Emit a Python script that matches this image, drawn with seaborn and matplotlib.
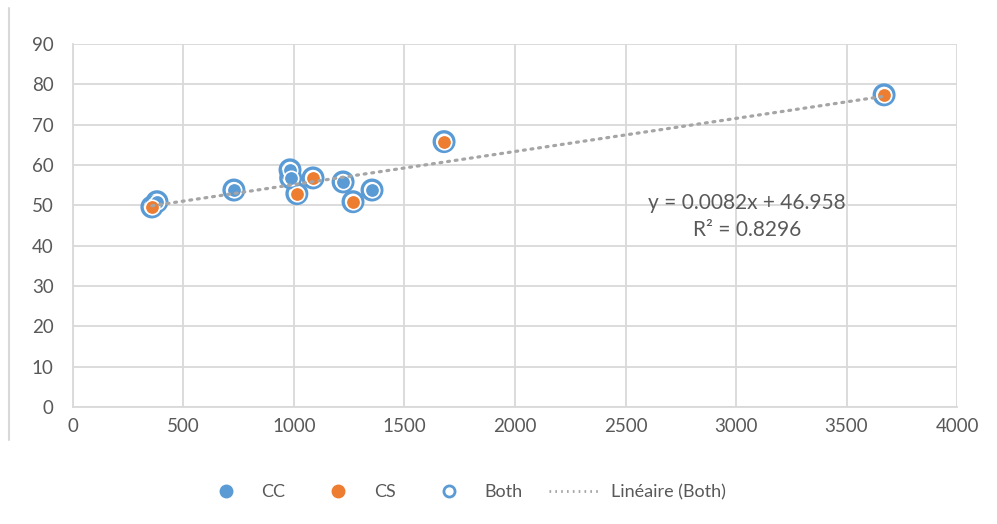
import matplotlib
matplotlib.use("Agg")
import matplotlib.pyplot as plt
from matplotlib.lines import Line2D
import numpy as np
import pandas as pd
import seaborn as sns

# Series values
cc_x = [380, 728, 982, 985, 1222, 1353]
cc_y = [50.9, 53.8, 58.8, 56.8, 55.8, 53.8]
cs_x = [357, 1013, 1086, 1267, 1679, 3670]
cs_y = [49.6, 52.9, 56.8, 50.9, 65.8, 77.4]

# Linear fit on the combined series
slope = 0.0082
intercept = 46.958
r_squared = 0.8296

x_ticks = [0, 500, 1000, 1500, 2000, 2500, 3000, 3500, 4000]
y_ticks = [0, 10, 20, 30, 40, 50, 60, 70, 80, 90]

BLUE = "#5B9BD5"
ORANGE = "#ED7D31"
GRID = "#D9D9D9"
TEXT = "#595959"
TREND = "#A5A5A5"

sns.set_theme(style="white")
plt.rcParams["font.family"] = ["Lato", "DejaVu Sans"]

cc = pd.DataFrame({"x": cc_x, "y": cc_y})
cs = pd.DataFrame({"x": cs_x, "y": cs_y})
both = pd.concat([cc, cs], ignore_index=True)

fig = plt.figure(figsize=(9.97, 5.24), dpi=100)
ax = fig.add_axes([0.0732, 0.2233, 0.8867, 0.6927])

sns.scatterplot(data=both, x="x", y="y", ax=ax, s=200, marker="o",
                facecolor="none", edgecolor=BLUE, linewidth=2.4, zorder=3)
sns.scatterplot(data=cc, x="x", y="y", ax=ax, s=108, color=BLUE,
                edgecolor="white", linewidth=1.2, zorder=4)
sns.scatterplot(data=cs, x="x", y="y", ax=ax, s=108, color=ORANGE,
                edgecolor="white", linewidth=1.2, zorder=4)

xs = np.array([both["x"].min(), both["x"].max()])
ax.plot(xs, slope * xs + intercept, color=TREND, lw=2.3,
        linestyle=(0, (0.6, 1.8)), dash_capstyle="round", zorder=5)

ax.text(3050, 50.5, f"y = {slope}x + {intercept}", ha="center", va="center",
        fontsize=15, color=TEXT)
ax.text(3050, 43.8, f"R² = {r_squared}", ha="center", va="center",
        fontsize=15, color=TEXT)

ax.set_xlim(0, 4000)
ax.set_ylim(0, 90)
ax.set_xticks(x_ticks)
ax.set_yticks(y_ticks)
ax.set_xticklabels([str(t) for t in x_ticks])
ax.set_yticklabels([str(t) for t in y_ticks])
ax.set_xlabel("")
ax.set_ylabel("")
ax.grid(True, color=GRID, lw=1.3)
ax.set_axisbelow(True)
ax.tick_params(axis="both", length=0, labelsize=13.5, labelcolor=TEXT)
ax.tick_params(axis="x", pad=8)
ax.tick_params(axis="y", pad=14)
for side in ["top", "right"]:
    ax.spines[side].set_visible(False)
for side in ["left", "bottom"]:
    ax.spines[side].set_color(GRID)
    ax.spines[side].set_linewidth(1.3)

# Chart-area border on the left edge
fig.add_artist(Line2D([0.0095, 0.0095], [0.16, 0.985], color=GRID, lw=1.5))

handles = [
    Line2D([], [], marker="o", ls="none", markersize=9, markerfacecolor=BLUE,
           markeredgecolor=BLUE),
    Line2D([], [], marker="o", ls="none", markersize=9, markerfacecolor=ORANGE,
           markeredgecolor=ORANGE),
    Line2D([], [], marker="o", ls="none", markersize=8, markerfacecolor="white",
           markeredgecolor=BLUE, markeredgewidth=2),
    Line2D([], [], color=TREND, lw=2, linestyle=(0, (0.6, 1.5))),
]
labels = ["CC", "CS", "Both", "Linéaire (Both)"]
leg = fig.legend(handles, labels, loc="center", bbox_to_anchor=(0.464, 0.061),
                 ncol=4, frameon=False, fontsize=13, handlelength=2.9,
                 columnspacing=1.5, handletextpad=0.5)
for t in leg.get_texts():
    t.set_color(TEXT)

fig.savefig("out.png", dpi=100, facecolor="white")
